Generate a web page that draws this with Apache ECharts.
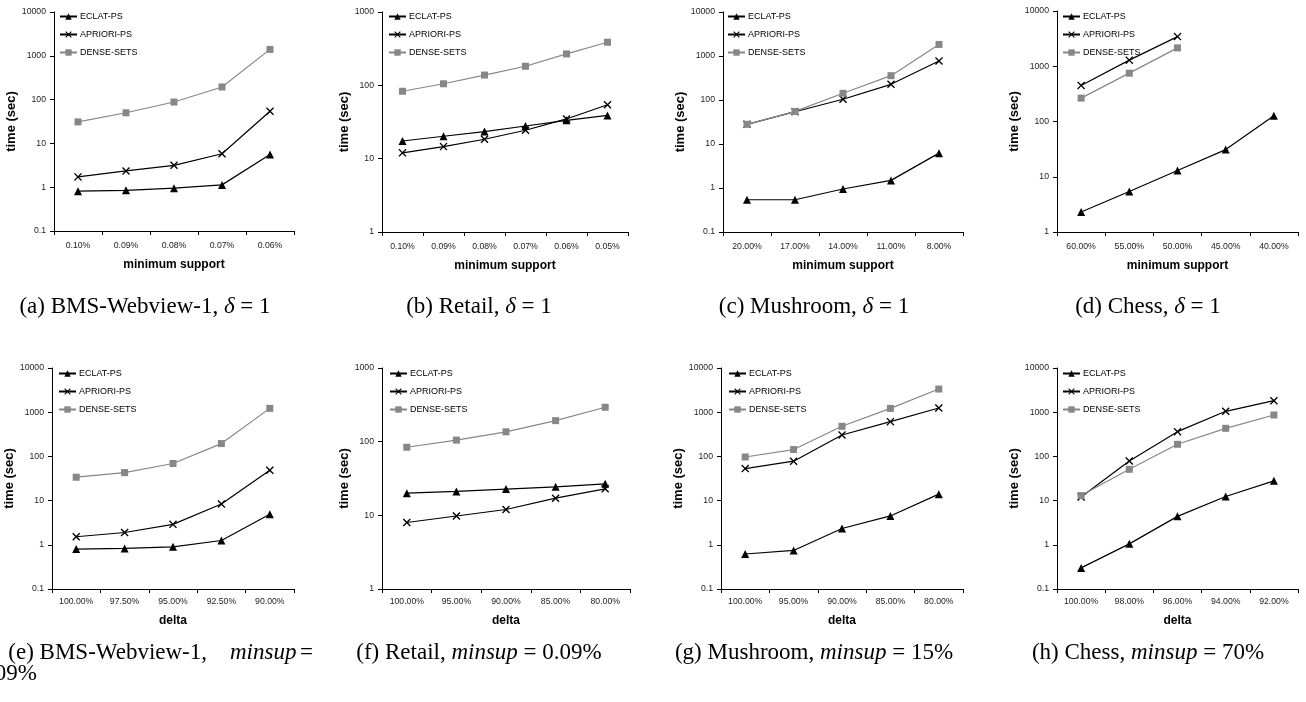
<!DOCTYPE html>
<html>
<head>
<meta charset="utf-8">
<script src="https://cdn.jsdelivr.net/npm/echarts@6/dist/echarts.min.js"></script>
<style>
html, body { margin: 0; padding: 0; background: #fff; }
#chart { width: 1306px; height: 702px; }
</style>
</head>
<body>
<div id="chart"></div>
<script>
// ---- data ----
var supBms = ['0.10%', '0.09%', '0.08%', '0.07%', '0.06%'];
var supRetail = ['0.10%', '0.09%', '0.08%', '0.07%', '0.06%', '0.05%'];
var supMushroom = ['20.00%', '17.00%', '14.00%', '11.00%', '8.00%'];
var supChess = ['60.00%', '55.00%', '50.00%', '45.00%', '40.00%'];
var deltaBms = ['100.00%', '97.50%', '95.00%', '92.50%', '90.00%'];
var deltaRetail = ['100.00%', '95.00%', '90.00%', '85.00%', '80.00%'];
var deltaMushroom = ['100.00%', '95.00%', '90.00%', '85.00%', '80.00%'];
var deltaChess = ['100.00%', '98.00%', '96.00%', '94.00%', '92.00%'];

// (a) BMS-Webview-1, delta = 1
var eclatA = [0.81, 0.85, 0.95, 1.13, 5.6];
var aprioriA = [1.72, 2.35, 3.16, 5.8, 54];
var denseA = [31, 50, 88, 194, 1400];
// (b) Retail, delta = 1
var eclatB = [17.4, 20.2, 23.4, 27.9, 33.3, 38.9];
var aprioriB = [12.0, 14.6, 18.4, 24.4, 34.8, 54.4];
var denseB = [83, 105, 138, 182, 268, 387];
// (c) Mushroom, delta = 1
var eclatC = [0.54, 0.54, 0.95, 1.49, 6.2];
var aprioriC = [28, 54, 104, 227, 768];
var denseC = [28, 55, 142, 357, 1830];
// (d) Chess, delta = 1
var eclatD = [2.3, 5.4, 13, 31, 127];
var aprioriD = [450, 1290, 3440, null, null];
var denseD = [265, 750, 2150, null, null];
// (e) BMS-Webview-1, minsup = 0.09%
var eclatE = [0.80, 0.83, 0.90, 1.25, 4.9];
var aprioriE = [1.52, 1.9, 2.9, 8.4, 48.6];
var denseE = [33.8, 43, 69, 195, 1220];
// (f) Retail, minsup = 0.09%
var eclatF = [20, 21.1, 22.7, 24.4, 26.8];
var aprioriF = [8.0, 9.8, 12, 17.1, 22.9];
var denseF = [84, 105, 136, 193, 293];
// (g) Mushroom, minsup = 15%
var eclatG = [0.62, 0.745, 2.34, 4.5, 14];
var aprioriG = [53, 78, 305, 611, 1245];
var denseG = [97, 143, 480, 1220, 3340];
// (h) Chess, minsup = 70%
var eclatH = [0.30, 1.05, 4.4, 12.4, 28];
var aprioriH = [12.1, 79, 363, 1047, 1823];
var denseH = [13, 51, 188, 432, 865];

var seriesNames = ['ECLAT-PS', 'APRIORI-PS', 'DENSE-SETS'];

// ---- panel layout ----
var panels = [
	{ cats: supBms, data: [eclatA, aprioriA, denseA], min: 0.1, max: 10000, xName: 'minimum support',
		left: 54, top: 12, width: 240, height: 219, yGap: 33, legLeft: 59, legTop: 12 },
	{ cats: supRetail, data: [eclatB, aprioriB, denseB], min: 1, max: 1000, xName: 'minimum support',
		left: 382, top: 12, width: 246, height: 220, yGap: 24, legLeft: 388, legTop: 12 },
	{ cats: supMushroom, data: [eclatC, aprioriC, denseC], min: 0.1, max: 10000, xName: 'minimum support',
		left: 723, top: 12, width: 240, height: 220, yGap: 32, legLeft: 727, legTop: 12 },
	{ cats: supChess, data: [eclatD, aprioriD, denseD], min: 1, max: 10000, xName: 'minimum support',
		left: 1057, top: 11, width: 241, height: 221, yGap: 32, legLeft: 1062, legTop: 12 },
	{ cats: deltaBms, data: [eclatE, aprioriE, denseE], min: 0.1, max: 10000, xName: 'delta',
		left: 52, top: 368, width: 242, height: 221, yGap: 31, legLeft: 58, legTop: 369 },
	{ cats: deltaRetail, data: [eclatF, aprioriF, denseF], min: 1, max: 1000, xName: 'delta',
		left: 382, top: 368, width: 248, height: 221, yGap: 26, legLeft: 389, legTop: 369 },
	{ cats: deltaMushroom, data: [eclatG, aprioriG, denseG], min: 0.1, max: 10000, xName: 'delta',
		left: 721, top: 368, width: 242, height: 221, yGap: 30, legLeft: 728, legTop: 369 },
	{ cats: deltaChess, data: [eclatH, aprioriH, denseH], min: 0.1, max: 10000, xName: 'delta',
		left: 1057, top: 368, width: 241, height: 221, yGap: 32, legLeft: 1062, legTop: 369 }
];

var sans = 'Liberation Sans, Arial, sans-serif';
var serif = 'Liberation Serif, Times New Roman, serif';
var crossPath = 'path://M0,1.2L1.2,0L5,3.8L8.8,0L10,1.2L6.2,5L10,8.8L8.8,10L5,6.2L1.2,10L0,8.8L3.8,5Z';

var seriesStyle = [
	{ color: '#000', symbol: 'triangle', size: 8 },
	{ color: '#000', symbol: crossPath, size: 8 },
	{ color: '#878787', symbol: 'rect', size: 7 }
];

var grids = [], xAxes = [], yAxes = [], series = [], legends = [];

panels.forEach(function (p, i) {
	var row2 = i >= 4;
	grids.push({ left: p.left, top: p.top, width: p.width, height: p.height, containLabel: false });
	xAxes.push({
		type: 'category', gridIndex: i, data: p.cats, boundaryGap: true,
		name: p.xName, nameLocation: 'middle', nameGap: row2 ? 26 : 28,
		nameTextStyle: { fontFamily: sans, fontWeight: 'bold', fontSize: 12, color: '#000' },
		axisLine: { show: true, lineStyle: { color: '#000', width: 1 } },
		axisTick: { show: true, length: 4, lineStyle: { color: '#000' } },
		axisLabel: { interval: 0, margin: row2 ? 8 : 10, fontFamily: sans, fontSize: 8.7, color: '#222' },
		splitLine: { show: false }
	});
	yAxes.push({
		type: 'log', logBase: 10, gridIndex: i, min: p.min, max: p.max,
		name: 'time (sec)', nameLocation: 'middle', nameGap: p.yGap,
		nameTextStyle: { fontFamily: sans, fontWeight: 'bold', fontSize: 13, color: '#000' },
		axisLine: { show: true, lineStyle: { color: '#000', width: 1 } },
		axisTick: { show: true, length: 4, lineStyle: { color: '#000' } },
		axisLabel: {
			margin: 8, fontFamily: sans, fontSize: 8.7, color: '#222',
			formatter: function (v) { return String(Math.pow(10, Math.round(Math.log10(v)))); }
		},
		splitLine: { show: false },
		minorTick: { show: false }
	});
	p.data.forEach(function (vals, k) {
		var st = seriesStyle[k];
		series.push({
			type: 'line', name: seriesNames[k], xAxisIndex: i, yAxisIndex: i,
			data: vals, symbol: st.symbol, symbolSize: st.size, showAllSymbol: true,
			lineStyle: { color: st.color, width: 1.2 },
			itemStyle: { color: st.color, borderColor: st.color, borderWidth: 0 },
			emphasis: { disabled: true }, silent: true
		});
	});
	legends.push({
		left: p.legLeft, top: p.legTop, orient: 'vertical', padding: 0,
		itemWidth: 17, itemHeight: 8, itemGap: 9, selectedMode: false,
		data: seriesNames,
		textStyle: { fontFamily: sans, fontSize: 9, color: '#000', padding: [0, 0, 0, -2] }
	});
});

// ---- sub-figure captions ----
var rich = {
	n: { fontFamily: serif, fontSize: 23, color: '#000' },
	i: { fontFamily: serif, fontSize: 23, fontStyle: 'italic', color: '#000' }
};
function caption(x, y, text, align) {
	return {
		type: 'text', x: x, y: y, silent: true,
		style: { text: text, rich: rich, align: align || 'center', verticalAlign: 'middle' }
	};
}
var graphics = [
	caption(145, 307, '{n|(a) BMS-Webview-1, }{i|δ}{n| = 1}'),
	caption(479, 307, '{n|(b) Retail, }{i|δ}{n| = 1}'),
	caption(814, 307, '{n|(c) Mushroom, }{i|δ}{n| = 1}'),
	caption(1148, 307, '{n|(d) Chess, }{i|δ}{n| = 1}'),
	caption(207, 653, '{n|(e) BMS-Webview-1,}', 'right'),
	caption(230, 653, '{i|minsup}', 'left'),
	caption(300, 653, '{n|=}', 'left'),
	caption(37, 674, '{n|0.09%}', 'right'),
	caption(479, 653, '{n|(f) Retail, }{i|minsup}{n| = 0.09%}'),
	caption(814, 653, '{n|(g) Mushroom, }{i|minsup}{n| = 15%}'),
	caption(1148, 653, '{n|(h) Chess, }{i|minsup}{n| = 70%}')
];

var myChart = echarts.init(document.getElementById('chart'));
myChart.setOption({
	animation: false,
	backgroundColor: '#fff',
	grid: grids,
	xAxis: xAxes,
	yAxis: yAxes,
	legend: legends,
	series: series,
	graphic: graphics
});
</script>
</body>
</html>
